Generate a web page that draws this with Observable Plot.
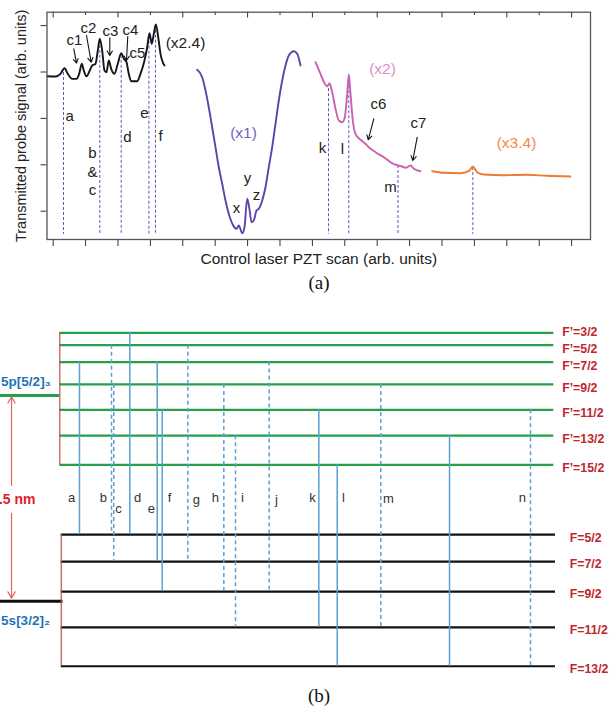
<!DOCTYPE html>
<html><head><meta charset="utf-8">
<script src="https://cdn.jsdelivr.net/npm/d3@7"></script>
<script src="https://cdn.jsdelivr.net/npm/@observablehq/plot@0.6"></script>
<style>
body{margin:0;background:#fff;}
#wrap{position:relative;width:609px;height:711px;overflow:hidden;}
#a{position:absolute;left:0;top:0;}
#b{position:absolute;left:0;top:300px;}
.cap{position:absolute;left:319px;transform:translateX(-50%);font-family:"Liberation Serif","Times New Roman",serif;font-size:19px;line-height:19px;color:#111;}
</style></head><body>
<div id="wrap"><div id="a"></div><div class="cap" style="top:273px">(a)</div><div id="b"></div><div class="cap" style="top:686px">(b)</div></div>
<script>
// ---------- (a) spectrum ----------
const xTicks = [0,1,2,3,4,5,6,7,8,9,10,11,12,13,14,15,16];
const yTicks = [0,1,2,3,4];

const scanBlack = [[-0.185,2.91],[0.071,2.903],[0.225,2.961],[0.349,3.082],[0.451,2.961],[0.586,2.853],[0.719,2.853],[0.802,2.961],[0.883,3.177],[0.944,3.032],[1.028,2.91],[1.130,3.032],[1.204,3.14],[1.306,3.177],[1.377,3.463],[1.438,3.716],[1.512,3.463],[1.583,3.032],[1.645,2.996],[1.716,3.248],[1.790,3.069],[1.892,2.961],[1.994,3.177],[2.099,3.405],[2.179,3.284],[2.262,3.211],[2.333,2.961],[2.407,2.802],[2.593,2.802],[2.694,2.961],[2.818,3.248],[2.901,3.534],[2.972,3.836],[3.043,3.608],[3.105,3.823],[3.167,4.024],[3.241,3.75],[3.312,3.392],[3.435,3.14]];
const scanPurple = [[4.444,3.047],[4.599,2.888],[4.701,2.601],[4.802,2.241],[4.907,1.810],[5.009,1.379],[5.111,0.948],[5.216,0.591],[5.318,0.231],[5.451,-0.129],[5.556,-0.308],[5.657,-0.379],[5.728,-0.308],[5.833,-0.474],[5.904,-0.345],[5.988,0.267],[6.049,0.086],[6.120,-0.237],[6.191,-0.2],[6.275,0.015],[6.346,0.052],[6.451,0.231],[6.552,0.517],[6.654,0.948],[6.759,1.379],[6.861,1.884],[6.963,2.386],[7.068,2.817],[7.170,3.14],[7.272,3.356],[7.426,3.448],[7.531,3.392],[7.633,3.14]];
const scanPink = [[8.096,3.211],[8.250,2.961],[8.383,2.746],[8.457,2.694],[8.528,2.759],[8.611,2.565],[8.713,2.207],[8.815,1.955],[8.920,1.918],[9.000,2.026],[9.074,2.530],[9.123,2.946],[9.176,2.530],[9.247,1.955],[9.330,1.668],[9.485,1.539],[9.617,1.466],[9.741,1.379],[9.948,1.272],[10.204,1.164],[10.463,1.034],[10.648,0.985],[10.772,0.963],[10.873,0.935],[11.028,0.985],[11.130,0.914],[11.336,0.862]];
const scanOrange = [[11.698,0.862],[12.056,0.828],[12.571,0.819],[12.827,0.862],[12.951,0.963],[13.086,0.841],[13.290,0.791],[13.907,0.776],[14.630,0.784],[15.247,0.763],[15.966,0.748]];

const peakLines = [
  {name:"a", x:0.318, top:2.99}, {name:"b&c", x:1.438, top:3.68}, {name:"d", x:2.099, top:3.36},
  {name:"e", x:2.955, top:3.77}, {name:"f", x:3.157, top:3.90}, {name:"k", x:8.497, top:2.64},
  {name:"l", x:9.123, top:2.92}, {name:"m", x:10.642, top:0.985}, {name:"n", x:12.951, top:0.94}
];
const peakBottom = -0.5;

const peakLabels = [
  {t:"a",x:0.506,y:2.058},{t:"b",x:1.213,y:1.244},{t:"&",x:1.213,y:0.834},{t:"c",x:1.213,y:0.446},
  {t:"d",x:2.293,y:1.588},{t:"e",x:2.818,y:2.106},{t:"f",x:3.312,y:1.61},
  {t:"x",x:5.657,y:0.058},{t:"y",x:5.997,y:0.705},{t:"z",x:6.275,y:0.338},
  {t:"k",x:8.312,y:1.351},{t:"l",x:8.929,y:1.330},{t:"m",x:10.41,y:0.511},
  {t:"c1",x:0.657,y:3.678},{t:"c2",x:1.090,y:3.937},{t:"c3",x:1.768,y:3.873},{t:"c4",x:2.386,y:3.894},
  {t:"c5",x:2.602,y:3.416},{t:"c6",x:10.040,y:2.299},{t:"c7",x:11.275,y:1.890}
];
const gainLabels = [
  {t:"(x2.4)",x:4.083,y:3.614,s:"black"},{t:"(x1)",x:5.873,y:1.675,s:"purple"},
  {t:"(x2)",x:10.164,y:3.054,s:"pink"},{t:"(x3.4)",x:14.299,y:1.459,s:"orange"}
];
const pointers = [
  {x1:0.636,y1:3.50,x2:0.719,y2:3.19},{x1:1.028,y1:3.787,x2:1.173,y2:3.211},
  {x1:1.747,y1:3.737,x2:1.747,y2:3.356},{x1:2.302,y1:3.765,x2:2.262,y2:3.248},
  {x1:9.895,y1:1.991,x2:9.722,y2:1.539},{x1:11.235,y1:1.595,x2:11.099,y2:1.093}
];
const gainColors = {black:"#222", purple:"#7660c0", pink:"#e08ccc", orange:"#f28a42"};

const font = "'Liberation Sans', Arial, Helvetica, sans-serif";
const line = (data, stroke) => Plot.line(data, {x: d => d[0], y: d => d[1], stroke, strokeWidth: 1.9, curve: "monotone-x"});

const chartA = Plot.plot({
  width: 609, height: 270,
  marginLeft: 46.5, marginRight: 19, marginTop: 11.7, marginBottom: 31,
  x: {domain: [-0.191, 16.583]},
  y: {domain: [-0.61, 4.289]},
  style: {fontFamily: font, fontSize: "15px", color: "#222", background: "white", overflow: "visible"},
  marks: [
    Plot.axisX({ticks: xTicks, tickSize: 7, tickFormat: () => "", label: null, stroke: "#333"}),
    Plot.axisY({ticks: yTicks, tickSize: 6, tickFormat: () => "", label: null, stroke: "#333"}),
    Plot.tickX(xTicks.filter(d => d % 2 === 0), {x: d => d, insetBottom: 221.5, stroke: "#333"}),
    Plot.tickX(xTicks.filter(d => d % 2 === 1), {x: d => d, insetBottom: 224, stroke: "#333"}),
    Plot.ruleX(peakLines, {x: "x", y1: "top", y2: peakBottom, stroke: "#6650c8", strokeWidth: 1, strokeDasharray: "3,2"}),
    line(scanBlack, "#151515"),
    line(scanPurple, "#5c44a8"),
    line(scanPink, "#cc5fae"),
    line(scanOrange, "#ef7a32"),
    Plot.arrow(pointers, {x1: "x1", y1: "y1", x2: "x2", y2: "y2", stroke: "#111", strokeWidth: 1.1, headLength: 7}),
    Plot.text(peakLabels, {x: "x", y: "y", text: "t", fill: "#222", fontSize: 15}),
    Plot.text(gainLabels, {x: "x", y: "y", text: "t", fill: d => gainColors[d.s], fontSize: 15.5}),
    Plot.frame({stroke: "#555", strokeWidth: 1.3}),
    Plot.text(["Control laser PZT scan (arb. units)"], {frameAnchor: "bottom", dy: 20, textAnchor: "middle", lineAnchor: "middle", fontSize: 15.5, fill: "#222"}),
    Plot.text(["Transmitted probe signal (arb. units)"], {frameAnchor: "left", dx: -26, rotate: -90, textAnchor: "middle", lineAnchor: "middle", fontSize: 14.5, fill: "#222"})
  ]
});
document.getElementById("a").append(chartA);

// ---------- (b) level diagram ----------
const upperLevels = [
  {F:"3/2",E:91.6},{F:"5/2",E:88.4},{F:"7/2",E:84.0},{F:"9/2",E:78.2},
  {F:"11/2",E:71.6},{F:"13/2",E:64.9},{F:"15/2",E:57.3}
];
const lowerLevels = [
  {F:"5/2",E:39.2},{F:"7/2",E:32.2},{F:"9/2",E:24.4},{F:"11/2",E:15.1},{F:"13/2",E:5.0}
];
const upperCentroid = {name:"5p[5/2]₃", E:75.3};
const lowerCentroid = {name:"5s[3/2]₂", E:21.9};
const wavelength = "811.5 nm";

const transitions = [
  {t:"a", x:12.97, up:"7/2",  low:"5/2",  kind:"solid"},
  {t:"b", x:18.23, up:"5/2",  low:"5/2",  kind:"dashed"},
  {t:"c", x:18.60, up:"9/2",  low:"7/2",  kind:"dashed"},
  {t:"d", x:21.23, up:"3/2",  low:"5/2",  kind:"solid"},
  {t:"e", x:25.73, up:"7/2",  low:"7/2",  kind:"solid"},
  {t:"f", x:26.55, up:"11/2", low:"9/2",  kind:"solid"},
  {t:"g", x:30.76, up:"5/2",  low:"7/2",  kind:"dashed"},
  {t:"h", x:36.67, up:"9/2",  low:"9/2",  kind:"dashed"},
  {t:"i", x:38.59, up:"13/2", low:"11/2", kind:"dashed"},
  {t:"j", x:44.12, up:"7/2",  low:"9/2",  kind:"dashed"},
  {t:"k", x:52.27, up:"11/2", low:"11/2", kind:"solid"},
  {t:"l", x:55.29, up:"15/2", low:"13/2", kind:"solid"},
  {t:"m", x:62.45, up:"9/2",  low:"11/2", kind:"dashed"},
  {t:"",  x:73.73, up:"13/2", low:"13/2", kind:"solid"},
  {t:"n", x:87.03, up:"11/2", low:"13/2", kind:"dashed"}
];
const transitionLabels = [
  {t:"a",x:11.66,y:48.8},{t:"b",x:16.91,y:48.8},{t:"c",x:19.38,y:46.0},{t:"d",x:22.5,y:48.8},
  {t:"e",x:24.79,y:46.0},{t:"f",x:27.75,y:48.8},{t:"g",x:32.18,y:48.3},{t:"h",x:35.3,y:48.8},
  {t:"i",x:39.74,y:48.8},{t:"j",x:45.32,y:48.3},{t:"k",x:51.23,y:48.8},{t:"l",x:56.32,y:48.8},
  {t:"m",x:63.71,y:48.5},{t:"n",x:85.71,y:48.8}
];

const Eup = Object.fromEntries(upperLevels.map(d => [d.F, d.E]));
const Elow = Object.fromEntries(lowerLevels.map(d => [d.F, d.E]));
const green = "#23a04a", red = "#c0262c", blue = "#5c9fd2", stateBlue = "#1f73b8";
const upX = [9.74, 90.85], lowX = [9.97, 91.13];
const levelFont = {fill: red, fontSize: 12.3, fontWeight: "bold", textAnchor: "start"};

const chartB = Plot.plot({
  width: 609, height: 385,
  marginLeft: 0, marginRight: 0, marginTop: 0, marginBottom: 0,
  x: {domain: [0, 100], axis: null},
  y: {domain: [0, 100], axis: null},
  style: {fontFamily: font, background: "white", overflow: "visible"},
  marks: [
    Plot.ruleY(upperLevels, {y: "E", x1: upX[0], x2: upX[1], stroke: green, strokeWidth: 2.2}),
    Plot.ruleY(lowerLevels, {y: "E", x1: lowX[0], x2: lowX[1], stroke: "#111", strokeWidth: 2.2}),
    Plot.ruleY([upperCentroid], {y: "E", x1: 0, x2: upX[0], stroke: green, strokeWidth: 3}),
    Plot.ruleY([lowerCentroid], {y: "E", x1: 0, x2: lowX[0] + 0.3, stroke: "#111", strokeWidth: 3}),
    Plot.ruleX([upX[0]], {x: d => d, y1: d3.min(upperLevels, d => d.E), y2: d3.max(upperLevels, d => d.E), stroke: "#c0504d", strokeWidth: 1.2}),
    Plot.ruleX([lowX[0]], {x: d => d, y1: d3.min(lowerLevels, d => d.E), y2: d3.max(lowerLevels, d => d.E), stroke: "#c0504d", strokeWidth: 1.2}),
    Plot.ruleX(transitions.filter(d => d.kind === "solid"), {x: "x", y1: d => Eup[d.up], y2: d => Elow[d.low], stroke: blue, strokeWidth: 1.5}),
    Plot.ruleX(transitions.filter(d => d.kind === "dashed"), {x: "x", y1: d => Eup[d.up], y2: d => Elow[d.low], stroke: blue, strokeWidth: 1.5, strokeDasharray: "4,3"}),
    Plot.text(transitionLabels, {x: "x", y: "y", text: "t", fill: "#333", fontSize: 13}),
    Plot.text(upperLevels.slice(0, 1), {x: 92.23, y: "E", dy: -0.5, text: d => `F’=${d.F}`, ...levelFont}),
    Plot.text(upperLevels.slice(1), {x: 92.23, y: "E", dy: 3.5, text: d => `F’=${d.F}`, ...levelFont}),
    Plot.text(lowerLevels, {x: 93.48, y: "E", dy: 3, text: d => `F=${d.F}`, ...levelFont}),
    Plot.text([upperCentroid], {x: 0.1, y: "E", dy: -13.5, text: "name", textAnchor: "start", fill: stateBlue, fontSize: 13.5, fontWeight: "bold"}),
    Plot.text([lowerCentroid], {x: 0.1, y: "E", dy: 19, text: "name", textAnchor: "start", fill: stateBlue, fontSize: 13.5, fontWeight: "bold"}),
    Plot.arrow([{a: 52.0, b: upperCentroid.E - 0.3}], {x1: 1.81, y1: "a", x2: 1.81, y2: "b", stroke: "#e06464", strokeWidth: 1.2, headLength: 9}),
    Plot.arrow([{a: 44.7, b: lowerCentroid.E + 0.8}], {x1: 1.81, y1: "a", x2: 1.81, y2: "b", stroke: "#e06464", strokeWidth: 1.2, headLength: 9}),
    Plot.text([wavelength], {x: 5.75, y: 48.3, text: d => d, textAnchor: "end", fill: "#e0202a", fontSize: 14, fontWeight: "bold"})
  ]
});
document.getElementById("b").append(chartB);
</script>
</body></html>
